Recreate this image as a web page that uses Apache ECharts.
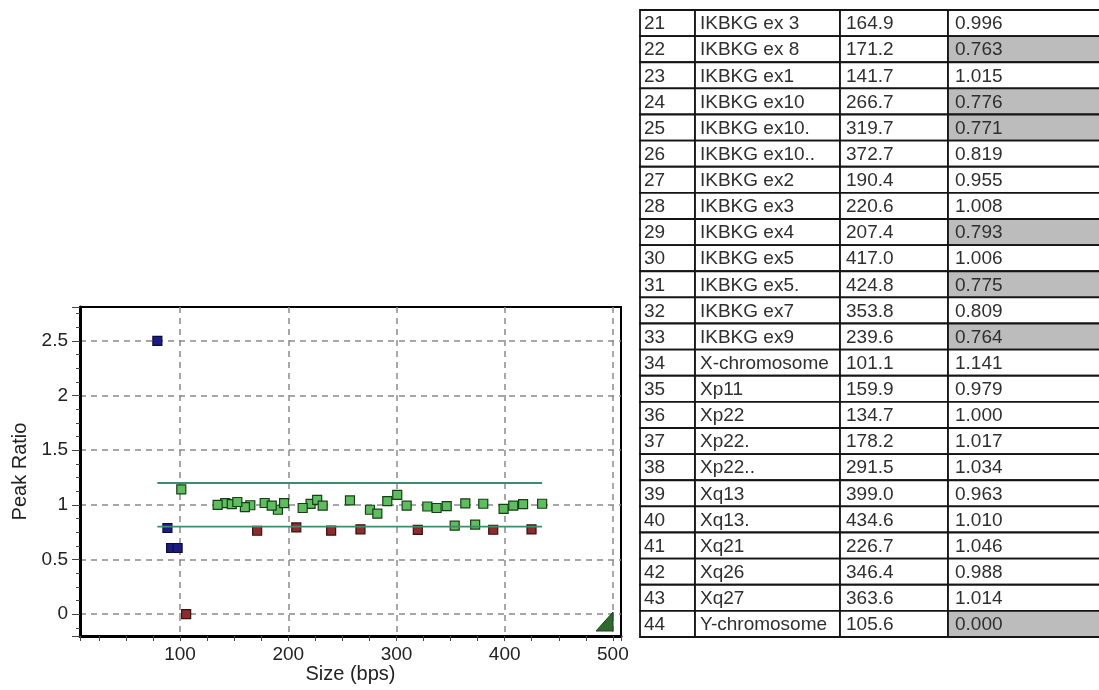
<!DOCTYPE html>
<html>
<head>
<meta charset="utf-8">
<script src="https://cdn.jsdelivr.net/npm/echarts@6/dist/echarts.min.js"></script>
<style>
html,body{margin:0;padding:0;background:#fff;}
#main{width:1099px;height:690px;}
</style>
</head>
<body>
<div id="main"></div>
<script>
// ---- Table rows (visible part of the probe table) ----
const rowNumbers = [21,22,23,24,25,26,27,28,29,30,31,32,33,34,35,36,37,38,39,40,41,42,43,44];
const probeNames = ['IKBKG ex 3','IKBKG ex 8','IKBKG ex1','IKBKG ex10','IKBKG ex10.','IKBKG ex10..','IKBKG ex2','IKBKG ex3','IKBKG ex4','IKBKG ex5','IKBKG ex5.','IKBKG ex7','IKBKG ex9','X-chromosome','Xp11','Xp22','Xp22.','Xp22..','Xq13','Xq13.','Xq21','Xq26','Xq27','Y-chromosome'];
const probeSizes = [164.9,171.2,141.7,266.7,319.7,372.7,190.4,220.6,207.4,417.0,424.8,353.8,239.6,101.1,159.9,134.7,178.2,291.5,399.0,434.6,226.7,346.4,363.6,105.6];
const probeRatios = [0.996,0.763,1.015,0.776,0.771,0.819,0.955,1.008,0.793,1.006,0.775,0.809,0.764,1.141,0.979,1.000,1.017,1.034,0.963,1.010,1.046,0.988,1.014,0.000];

// ---- Probes plotted but not visible in the table (estimated from the plot) ----
const hiddenProbeSizes = [147.8,152.9,184.7,196.1,213.3,231.8,257.0,275.5,282.3,300.7,309.4,328.5,337.1,380.2,389.4,407.9];
const hiddenProbeRatios = [1.007,1.026,0.992,1.016,0.971,0.992,1.040,0.955,0.919,1.092,0.992,0.985,0.971,1.010,0.772,0.992];

// ---- Control fragments (blue) ----
const controlSizes = [79.0,88.3,91.7,97.7];
const controlRatios = [2.5,0.788,0.605,0.605];

// ---- Thresholds ----
const lowerThreshold = 0.8;
const upperThreshold = 1.2;

// ---- Axis tick labels ----
const xTickLabels = [100,200,300,400,500];
const yTickLabels = [0,0.5,1,1.5,2,2.5];

const FONT = '"Liberation Sans", Arial, sans-serif';

const allSizes = probeSizes.concat(hiddenProbeSizes);
const allRatios = probeRatios.concat(hiddenProbeRatios);
const normalPts = [], abnormalPts = [];
allSizes.forEach((s, i) => {
  const r = allRatios[i];
  if (r >= lowerThreshold && r <= upperThreshold) normalPts.push([s, r]);
  else abnormalPts.push([s, r]);
});
const controlPts = controlSizes.map((s, i) => [s, controlRatios[i]]);
const minSize = Math.min.apply(null, allSizes.concat(controlSizes));
const maxSize = Math.max.apply(null, allSizes.concat(controlSizes));

const tableData = rowNumbers.map((n, i) => [0, i]);
const colEdges = [0, 55, 200, 308, 470];
const colPad = [4, 5, 6, 7];

const chart = echarts.init(document.getElementById('main'));
const option = {
  animation: false,
  backgroundColor: '#fff',
  grid: [
    {left: 80, top: 307, width: 541, height: 329, show: true, borderColor: '#000', borderWidth: 2, backgroundColor: '#fff', outerBoundsMode: 'none'},
    {left: 640, top: 10, width: 470, height: 627, show: false, outerBoundsMode: 'none'}
  ],
  xAxis: [
    {
      gridIndex: 0, type: 'value', min: 7.5, max: 507.5,
      name: 'Size (bps)', nameLocation: 'middle', nameGap: 28,
      nameTextStyle: {fontFamily: FONT, fontSize: 20, color: '#222'},
      axisLine: {show: true, onZero: false, lineStyle: {color: '#000', width: 3}},
      axisTick: {show: true, length: 5, lineStyle: {color: '#444'}},
      minorTick: {show: true, splitNumber: 4, length: 5, lineStyle: {color: '#444'}},
      axisLabel: {showMinLabel: false, showMaxLabel: false, fontFamily: FONT, fontSize: 19, color: '#222', margin: 9,
        formatter: v => xTickLabels.indexOf(v) >= 0 ? String(v) : ''},
      splitLine: {show: true, showMinLine: false, showMaxLine: false, lineStyle: {type: [6, 5], color: '#8a8a8a', width: 1.5}}
    },
    {gridIndex: 1, type: 'value', min: 0, max: 470, show: false}
  ],
  yAxis: [
    {
      gridIndex: 0, type: 'value', min: -0.2, max: 2.81,
      name: 'Peak Ratio', nameLocation: 'middle', nameGap: 50,
      nameTextStyle: {fontFamily: FONT, fontSize: 20, color: '#222'},
      axisLine: {show: true, onZero: false, lineStyle: {color: '#000', width: 3}},
      axisTick: {show: true, length: 8, lineStyle: {color: '#444'}},
      minorTick: {show: true, splitNumber: 4, length: 4, lineStyle: {color: '#444'}},
      axisLabel: {showMinLabel: false, showMaxLabel: false, fontFamily: FONT, fontSize: 19, color: '#222', margin: 12,
        formatter: v => yTickLabels.indexOf(v) >= 0 ? String(v) : ''},
      splitLine: {show: true, showMinLine: false, showMaxLine: false, lineStyle: {type: [6, 5], color: '#8a8a8a', width: 1.5}}
    },
    {gridIndex: 1, type: 'category', data: rowNumbers.map(String), inverse: true, show: false, boundaryGap: true}
  ],
  series: [
    {
      type: 'line', xAxisIndex: 0, yAxisIndex: 0, symbol: 'none', silent: true,
      data: [[minSize, upperThreshold], [maxSize, upperThreshold]],
      lineStyle: {color: '#3f8c6c', width: 1.8}
    },
    {
      type: 'line', xAxisIndex: 0, yAxisIndex: 0, symbol: 'none', silent: true,
      data: [[minSize, lowerThreshold], [maxSize, lowerThreshold]],
      lineStyle: {color: '#3f8c6c', width: 1.8}
    },
    {
      type: 'scatter', xAxisIndex: 0, yAxisIndex: 0, symbol: 'rect', symbolSize: 9,
      data: normalPts, itemStyle: {color: '#5ebd5e', borderColor: '#173f17', borderWidth: 1.2, opacity: 1}
    },
    {
      type: 'scatter', xAxisIndex: 0, yAxisIndex: 0, symbol: 'rect', symbolSize: 9,
      data: abnormalPts, itemStyle: {color: '#8c2c2c', borderColor: '#3a1010', borderWidth: 1.2, opacity: 1}
    },
    {
      type: 'scatter', xAxisIndex: 0, yAxisIndex: 0, symbol: 'rect', symbolSize: 9,
      data: controlPts, itemStyle: {color: '#1c1c7e', borderColor: '#0b0b40', borderWidth: 1.2, opacity: 1}
    },
    {
      type: 'custom', xAxisIndex: 1, yAxisIndex: 1, silent: true,
      data: tableData,
      renderItem: function (params, api) {
        const idx = api.value(1);
        const c = api.coord([0, idx]);
        const h = api.size([0, 1])[1];
        const top = c[1] - h / 2;
        const texts = [String(rowNumbers[idx]), probeNames[idx], probeSizes[idx].toFixed(1), probeRatios[idx].toFixed(3)];
        const r = probeRatios[idx];
        const flagged = r < lowerThreshold || r > upperThreshold;
        const children = [];
        for (let k = 0; k < 4; k++) {
          const x0 = api.coord([colEdges[k], idx])[0];
          const x1 = api.coord([colEdges[k + 1], idx])[0];
          children.push({
            type: 'rect',
            shape: {x: x0, y: top, width: x1 - x0, height: h},
            style: {fill: (k === 3 && flagged) ? '#bcbcbc' : '#fff', stroke: '#151515', lineWidth: 1.8}
          });
          children.push({
            type: 'text',
            style: {text: texts[k], x: x0 + colPad[k], y: top + h / 2 + 1, fill: '#2f2f2f',
              fontFamily: FONT, fontSize: 19, align: 'left', verticalAlign: 'middle'}
          });
        }
        return {type: 'group', children: children};
      }
    }
  ],
  graphic: [
    {
      type: 'polygon', silent: true, z: 10,
      shape: {points: [[613, 612], [613, 631], [596, 631]]},
      style: {fill: '#2e6a2e', stroke: '#1c3f1c', lineWidth: 1}
    }
  ]
};
chart.setOption(option);
</script>
</body>
</html>
